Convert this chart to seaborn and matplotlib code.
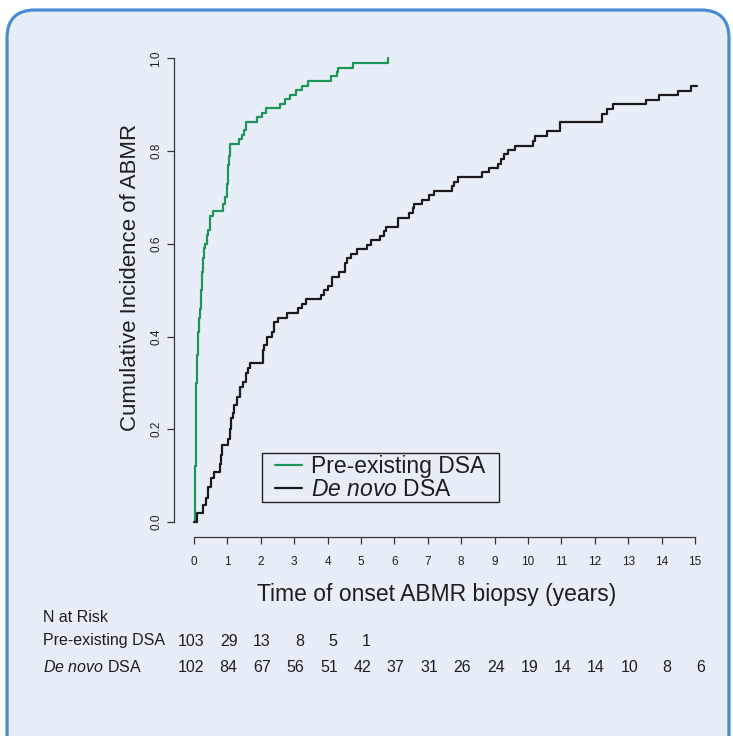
import numpy as np
import pandas as pd
import matplotlib
matplotlib.use("Agg")
import matplotlib.pyplot as plt
import seaborn as sns
from matplotlib.patches import FancyBboxPatch, Rectangle
from matplotlib.transforms import IdentityTransform, blended_transform_factory
from matplotlib.lines import Line2D

# ---------------- data ----------------
groups = ["Pre-existing DSA", "De novo DSA"]

pre_time = [0.0, 0.03, 0.05, 0.07, 0.09, 0.12, 0.15, 0.18, 0.21, 0.24, 0.27, 0.30,
            0.34, 0.38, 0.43, 0.49, 0.56, 0.87, 0.93, 0.99, 1.02, 1.05, 1.08, 1.34,
            1.43, 1.49, 1.56, 1.88, 2.03, 2.14, 2.57, 2.72, 2.87, 3.04, 3.22, 3.42,
            4.09, 4.27, 4.32, 4.77, 5.80]
pre_cuminc = [0.0, 0.12, 0.22, 0.30, 0.36, 0.41, 0.44, 0.46, 0.50, 0.54, 0.57, 0.59,
              0.60, 0.62, 0.63, 0.66, 0.67, 0.685, 0.70, 0.73, 0.77, 0.79, 0.815, 0.825,
              0.835, 0.845, 0.863, 0.874, 0.883, 0.892, 0.902, 0.912, 0.922, 0.932, 0.941, 0.951,
              0.961, 0.970, 0.980, 0.990, 1.0]

denovo_time = [0.0, 0.08, 0.28, 0.35, 0.41, 0.51, 0.61, 0.78, 0.82, 0.85, 1.03, 1.08,
               1.11, 1.16, 1.21, 1.28, 1.38, 1.48, 1.56, 1.62, 1.68, 2.08, 2.10, 2.19,
               2.33, 2.40, 2.51, 2.79, 3.12, 3.22, 3.34, 3.80, 3.90, 4.02, 4.12, 4.35,
               4.52, 4.57, 4.69, 4.87, 5.17, 5.30, 5.57, 5.70, 5.75, 6.12, 6.45, 6.55,
               6.60, 6.82, 7.05, 7.20, 7.72, 7.77, 7.90, 8.62, 8.82, 9.11, 9.18, 9.28,
               9.41, 9.61, 10.15, 10.21, 10.56, 10.96, 12.21, 12.36, 12.55, 13.52, 13.92,
               14.48, 14.87, 15.05]
denovo_cuminc = [0.0, 0.019, 0.037, 0.051, 0.076, 0.094, 0.108, 0.126, 0.145, 0.166, 0.18, 0.20,
                 0.224, 0.235, 0.252, 0.27, 0.292, 0.303, 0.321, 0.332, 0.343, 0.37, 0.382, 0.40,
                 0.41, 0.432, 0.441, 0.451, 0.461, 0.470, 0.480, 0.490, 0.500, 0.509, 0.529, 0.540,
                 0.558, 0.569, 0.578, 0.588, 0.597, 0.608, 0.617, 0.627, 0.636, 0.656, 0.667, 0.677,
                 0.686, 0.694, 0.705, 0.714, 0.724, 0.734, 0.745, 0.754, 0.764, 0.773, 0.784, 0.794,
                 0.802, 0.812, 0.822, 0.832, 0.843, 0.863, 0.881, 0.891, 0.901, 0.910, 0.921,
                 0.930, 0.940, 0.940]

x_ticks = list(range(16))
y_ticks = [0.0, 0.2, 0.4, 0.6, 0.8, 1.0]
y_tick_labels = ["0.0", "0.2", "0.4", "0.6", "0.8", "1.0"]

risk_times = list(range(16))
pre_at_risk = [103, 29, 13, 8, 5, 1]
denovo_at_risk = [102, 84, 67, 56, 51, 42, 37, 31, 26, 24, 19, 14, 14, 10, 8, 6]

# ---------------- style ----------------
sns.set_style("white")
plt.rcParams["font.family"] = ["Liberation Sans", "DejaVu Sans"]
plt.rcParams["mathtext.fontset"] = "custom"
plt.rcParams["mathtext.rm"] = "Liberation Sans"
plt.rcParams["mathtext.it"] = "Liberation Sans:italic"

W, H = 733, 736
bg = "#E8EEF8"
border = "#4A8CD2"
green = "#1E9658"
black = "#1A1A1A"
txt = "#1E1E1E"
axcol = "#333333"

fig = plt.figure(figsize=(W / 100, H / 100), dpi=100, facecolor="white")

box = FancyBboxPatch((7, -40), 722, 736 - 10 + 40, boxstyle="round,pad=0,rounding_size=28",
                     facecolor=bg, edgecolor=border, linewidth=2.3,
                     transform=IdentityTransform(), zorder=-10)
fig.add_artist(box)

ax_left, ax_right, ax_top, ax_bottom = 174, 715, 39.8, 537
ax = fig.add_axes([ax_left / W, (H - ax_bottom) / H, (ax_right - ax_left) / W, (ax_bottom - ax_top) / H])
ax.patch.set_visible(False)

df = pd.concat([
    pd.DataFrame({"time": pre_time, "cuminc": pre_cuminc, "group": groups[0]}),
    pd.DataFrame({"time": denovo_time, "cuminc": denovo_cuminc, "group": groups[1]}),
])
sns.lineplot(data=df, x="time", y="cuminc", hue="group", palette={groups[0]: green, groups[1]: black},
             estimator=None, sort=False, drawstyle="steps-post", linewidth=1.6, legend=False, ax=ax)

ax.set_xlim(-0.6, 15.6)
ax.set_ylim(-0.0323, 1.04)
ax.set_xticks(x_ticks)
ax.set_xticklabels([str(t) for t in x_ticks])
ax.set_yticks(y_ticks)
ax.set_yticklabels(y_tick_labels, rotation=90, va="center", ha="right")

for s in ["top", "right"]:
    ax.spines[s].set_visible(False)
ax.spines["left"].set_bounds(0, 1)
ax.spines["bottom"].set_bounds(0, 15)
for s in ["left", "bottom"]:
    ax.spines[s].set_color(axcol)
    ax.spines[s].set_linewidth(0.9)

ax.tick_params(axis="both", bottom=True, left=True, direction="out", length=5, width=0.9,
               color=axcol, labelsize=8.5, labelcolor=txt)
ax.tick_params(axis="x", pad=9)
ax.tick_params(axis="y", pad=3.5)

ax.set_xlabel("Time of onset ABMR biopsy (years)", fontsize=16.5, color=txt)
ax.set_ylabel("Cumulative Incidence of ABMR", fontsize=16, color=txt)
ax.xaxis.set_label_coords((437 - ax_left) / (ax_right - ax_left), (ax_bottom - 594) / (ax_bottom - ax_top))
ax.xaxis.label.set_va("center")
ax.yaxis.set_label_coords((130 - ax_left) / (ax_right - ax_left), (ax_bottom - 277) / (ax_bottom - ax_top))
ax.yaxis.label.set_va("center")
ax.yaxis.label.set_ha("center")

# legend (frame drawn as a separate rectangle)
frame = Rectangle((262, H - 502), 499 - 262, 502 - 453, facecolor=bg, edgecolor="#222222",
                  linewidth=1.0, transform=IdentityTransform(), zorder=5)
fig.add_artist(frame)
handles = [Line2D([], [], color=green, lw=1.6), Line2D([], [], color=black, lw=1.6)]
labels = ["Pre-existing DSA", r"$\mathit{De\ novo}$ DSA"]
leg = fig.legend(handles, labels, loc="upper left", bbox_to_anchor=(275 / W, 1 - 455 / H),
                 frameon=False, fontsize=16.5, handlelength=1.18, handletextpad=0.39,
                 labelspacing=-0.02, borderpad=0, borderaxespad=0)
leg.set_zorder(6)
for t in leg.get_texts():
    t.set_color(txt)

# number at risk table
fs = 11.5
fig.text(43 / W, 1 - 617 / H, "N at Risk", fontsize=fs, va="center", ha="left", color=txt)
fig.text(43 / W, 1 - 641 / H, "Pre-existing DSA", fontsize=fs, va="center", ha="left", color=txt)
fig.text(43 / W, 1 - 667 / H, r"$\mathit{De\ novo}$ DSA", fontsize=fs, va="center", ha="left", color=txt)

tr = blended_transform_factory(ax.transData, IdentityTransform())
for t, n in zip(risk_times, pre_at_risk):
    ax.text(t + 0.3, H - 641, str(n), transform=tr, ha="right", va="center", fontsize=fs,
            color=txt, clip_on=False)
for t, n in zip(risk_times, denovo_at_risk):
    ax.text(t + 0.3, H - 667, str(n), transform=tr, ha="right", va="center", fontsize=fs,
            color=txt, clip_on=False)

fig.savefig("out.png", dpi=100, facecolor="white")
